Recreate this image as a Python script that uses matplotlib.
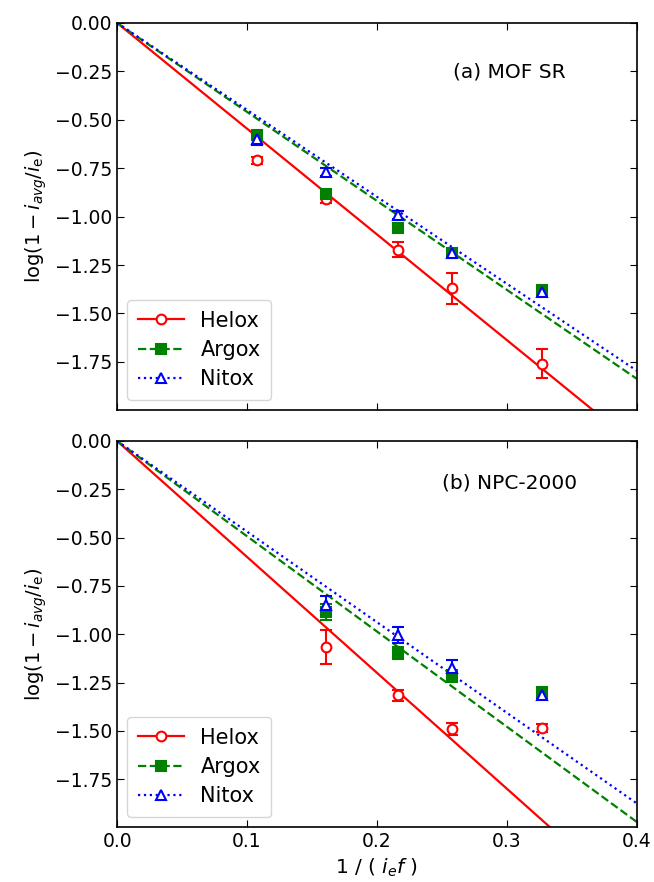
import numpy as np
import matplotlib
matplotlib.use('Agg')
import matplotlib.pyplot as plt
from matplotlib.lines import Line2D

# x positions: 1 / (i_e f)
x_pts = [0.108, 0.161, 0.216, 0.258, 0.327]

# (a) MOF SR
a_helox = [-0.71, -0.91, -1.17, -1.37, -1.76]
a_helox_err = [0.02, 0.02, 0.04, 0.08, 0.075]
a_argox = [-0.58, -0.885, -1.06, -1.19, -1.38]
a_argox_err = [0.01, 0.01, 0.015, 0.01, 0.02]
a_nitox = [-0.60, -0.77, -0.99, -1.19, -1.39]
a_nitox_err = [0.03, 0.02, 0.02, 0.015, 0.02]
a_slopes = [-5.46, -4.595, -4.49]

# (b) NPC-2000 (no point at first x)
b_x = x_pts[1:]
b_helox = [-1.066, -1.316, -1.489, -1.486]
b_helox_err = [0.086, 0.03, 0.03, 0.02]
b_argox = [-0.884, -1.097, -1.216, -1.30]
b_argox_err = [0.04, 0.03, 0.03, 0.02]
b_nitox = [-0.85, -1.005, -1.175, -1.312]
b_nitox_err = [0.05, 0.04, 0.04, 0.02]
b_slopes = [-6.0, -4.93, -4.69]

names = ['Helox', 'Argox', 'Nitox']
colors = ['red', 'green', 'blue']
markers = ['o', 's', '^']
styles = ['-', '--', ':']
fills = ['white', 'green', 'white']

yticks = [0.0, -0.25, -0.5, -0.75, -1.0, -1.25, -1.5, -1.75]
xticks = [0.0, 0.1, 0.2, 0.3, 0.4]

fig = plt.figure(figsize=(6.54, 8.82), dpi=100)
ax1 = fig.add_axes([0.179, 0.535, 0.795, 0.439])
ax2 = fig.add_axes([0.179, 0.062, 0.795, 0.438])


def draw_panel(ax, xs, series, errs, slopes, title, title_y):
    xfit = np.linspace(0, 0.4, 200)
    handles = []
    for i in range(3):
        ax.plot(xfit, slopes[i] * xfit, color=colors[i], linestyle=styles[i], linewidth=1.6)
        ax.errorbar(xs, series[i], yerr=errs[i], fmt=markers[i], color=colors[i],
                    markerfacecolor=fills[i], markeredgecolor=colors[i],
                    markersize=7, markeredgewidth=1.5, capsize=4, elinewidth=1.5,
                    capthick=1.5)
        handles.append(Line2D([], [], color=colors[i], linestyle=styles[i], linewidth=1.6,
                              marker=markers[i], markerfacecolor=fills[i],
                              markeredgecolor=colors[i], markersize=7, markeredgewidth=1.5,
                              label=names[i]))
    ax.legend(handles=handles, loc='lower left', fontsize=15, handlelength=2.2,
              borderpad=0.5, labelspacing=0.45)
    ax.text(0.755, title_y, title, transform=ax.transAxes, ha='center', va='center', fontsize=14.5)
    ax.set_xlim(0, 0.4)
    ax.set_ylim(-1.999, 0)
    ax.set_yticks(yticks)
    ax.set_xticks(xticks)
    ax.tick_params(direction='in', top=True, right=True, labelsize=13.5, length=5)
    ax.set_ylabel(r'$\log(1-i_{avg}/i_\mathrm{e})$', fontsize=14)
    for s in ax.spines.values():
        s.set_linewidth(1.2)


draw_panel(ax1, x_pts, [a_helox, a_argox, a_nitox], [a_helox_err, a_argox_err, a_nitox_err],
           a_slopes, '(a) MOF SR', 0.873)
draw_panel(ax2, b_x, [b_helox, b_argox, b_nitox], [b_helox_err, b_argox_err, b_nitox_err],
           b_slopes, '(b) NPC-2000', 0.89)

ax1.tick_params(labelbottom=False)
ax2.set_xlabel(r'1 / ( $i_ef$ )', fontsize=14.5)

fig.savefig('out.png', dpi=100)
